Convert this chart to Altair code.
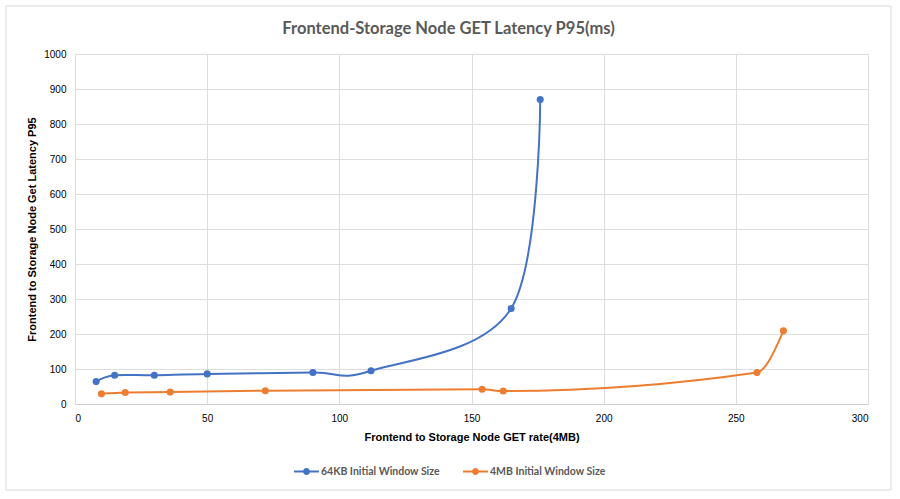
import altair as alt
import pandas as pd

# ---- data ----
series_names = ["64KB Initial Window Size", "4MB Initial Window Size"]
blue_x = [8, 15, 30, 50, 90, 112, 165, 176]
blue_y = [64, 82, 82, 86, 90, 95, 273, 870]
orange_x = [10, 19, 36, 72, 154, 162, 258, 268]
orange_y = [29, 33, 34, 38, 42, 37, 90, 209]
x_ticks = [0, 50, 100, 150, 200, 250, 300]
y_ticks = [0, 100, 200, 300, 400, 500, 600, 700, 800, 900, 1000]
colors = ["#4472C4", "#ED7D31"]

rows = []
for i, (x, y) in enumerate(zip(blue_x, blue_y)):
    rows.append({"series": series_names[0], "rate": x, "latency": y, "idx": i})
for i, (x, y) in enumerate(zip(orange_x, orange_y)):
    rows.append({"series": series_names[1], "rate": x, "latency": y, "idx": i})
df = pd.DataFrame(rows)

FONT = "Lato"
GREY = "#595959"

x_enc = alt.X(
    "rate:Q",
    title="Frontend to Storage Node GET rate(4MB)",
    scale=alt.Scale(domain=[0, 300], nice=False),
    axis=alt.Axis(values=x_ticks, grid=True, ticks=False, domain=True,
                  domainColor="#D0D0D0", labelPadding=9, titlePadding=8,
                  format="d"),
)
y_enc = alt.Y(
    "latency:Q",
    title="Frontend to Storage Node Get Latency P95",
    scale=alt.Scale(domain=[0, 1000], nice=False),
    axis=alt.Axis(values=y_ticks, grid=True, ticks=False, domain=False,
                  labelPadding=9, titlePadding=6, format="d"),
)
color_scale = alt.Scale(domain=series_names, range=colors)

legend_shape = ("M-1,-0.08L1,-0.08L1,0.08L-1,0.08Z "
                "M0.28,0A0.28,0.28,0,1,1,-0.28,0A0.28,0.28,0,1,1,0.28,0Z")

legend = alt.Legend(
    title=None, orient="none", direction="horizontal",
    legendX=219, legendY=405, symbolType=legend_shape, symbolSize=625,
    symbolStrokeWidth=0, symbolOpacity=1, labelOffset=2, columnPadding=23,
    labelFont=FONT, labelFontSize=10.5, labelFontWeight="bold",
    labelColor=GREY,
)
color_enc = alt.Color("series:N", scale=color_scale, legend=legend)

frame = alt.Chart(pd.DataFrame({"k": [0]})).mark_rect(
    filled=False, stroke="#D9D9D9", strokeWidth=1
).encode(
    x=alt.value(-69), x2=alt.value(816), y=alt.value(-48), y2=alt.value(436)
)

base = alt.Chart(df)

line_blue = base.transform_filter(
    alt.datum.series == series_names[0]
).mark_line(interpolate="cardinal", strokeWidth=2).encode(
    x=x_enc, y=y_enc, color=color_enc, order="idx:O",
)

line_orange = base.transform_filter(
    alt.datum.series == series_names[1]
).mark_line(interpolate="monotone", strokeWidth=2).encode(
    x=x_enc, y=y_enc, color=color_enc, order="idx:O",
)

points = base.mark_point(filled=True, size=50, opacity=1).encode(
    x=x_enc, y=y_enc, color=color_enc,
)

chart = alt.layer(frame, line_blue, line_orange, points).properties(
    width=793, height=350,
    title=alt.TitleParams(
        "Frontend-Storage Node GET Latency P95(ms)",
        font=FONT, fontSize=16.5, fontWeight="bold", color=GREY,
        anchor="middle", frame="bounds", offset=-32,
    ),
    autosize=alt.AutoSizeParams(type="none"),
    padding={"left": 75, "top": 54, "right": 32, "bottom": 95},
).configure_view(stroke=None).configure_axis(
    gridColor="#D9D9D9", gridWidth=1,
    labelFont=FONT, labelFontSize=11, labelColor=GREY,
    titleFont=FONT, titleFontSize=12, titleFontWeight="bold", titleColor=GREY,
).configure(background="white")

chart.save("out.html", embed_options={"renderer": "svg", "actions": False})
